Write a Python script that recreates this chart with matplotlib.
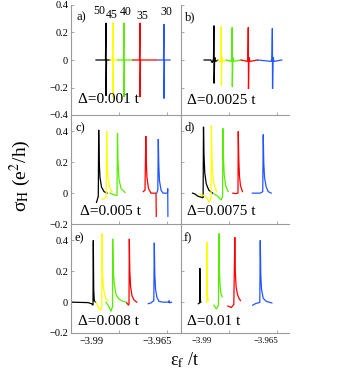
import numpy as np
import matplotlib
matplotlib.use('Agg')
import matplotlib.pyplot as plt
from matplotlib.ticker import FixedLocator, FixedFormatter, NullFormatter

plt.rcParams['font.family'] = ['Liberation Serif', 'DejaVu Serif']
plt.rcParams['mathtext.fontset'] = 'stix'

# ---------------- data ----------------
E0 = -3.998      # reference energy (units of t)
UNIT = 1e-4      # energy offsets below are given in units of 1e-4 t

colors = ['black', '#ffff00', '#55ee00', '#ff0000', '#2255ff']
field_labels = ['50', '45', '40', '35', '30']
field_label_dE = [107.8, 157.9, 211.8, 273.4, 365.8]
field_label_y = [0.356, 0.327, 0.35, 0.32, 0.35]
deltas = ['0.001', '0.0025', '0.005', '0.0075', '0.008', '0.01']
tags = ['a)', 'b)', 'c)', 'd)', 'e)', 'f)']

# panel a  (Delta = 0.001 t)
a_dE = [[96.3, 132.8, 134.8, 134.8, 136.7, 150.2],
        [150.2, 159.8, 161.7, 161.7, 163.6, 181.0],
        [181.0, 202.1, 204.1, 204.1, 206.0, 238.7],
        [238.7, 263.7, 265.7, 265.7, 267.6, 331.1],
        [335.0, 356.1, 358.1, 358.1, 360.0, 381.2]]
a_s = [[0, 0, 0.27, -0.26, 0, 0],
       [0, 0, 0.27, -0.27, 0, 0],
       [0, 0, 0.27, -0.27, 0, 0],
       [0, 0, 0.27, -0.27, 0, 0],
       [0, 0, 0.26, -0.28, 0, 0]]

# panel b  (Delta = 0.0025 t)
b_dE = [[89.7, 115.5, 121.3, 126.3, 127.8, 128.6, 130.9, 134.8, 143.6],
        [143.6, 152.1, 154.8, 156.3, 157.1, 159.0, 162.5, 175.9],
        [175.9, 194.4, 197.1, 198.7, 199.4, 201.4, 204.8, 233.7],
        [233.7, 257.2, 259.9, 261.4, 262.2, 264.1, 267.6, 297.6],
        [297.6, 350.7, 353.4, 355.0, 355.7, 357.7, 361.1, 391.5]]
b_s = [[0, 0, -0.02, 0.01, 0.25, -0.17, 0.02, -0.01, 0],
       [0, -0.01, 0.01, 0.245, -0.19, 0.02, -0.01, 0],
       [0, -0.01, 0.01, 0.237, -0.194, 0.02, -0.01, 0],
       [0, -0.01, 0.01, 0.237, -0.21, 0.02, -0.01, 0],
       [0, -0.01, 0.01, 0.23, -0.21, 0.02, -0.01, 0]]

# panel c  (Delta = 0.005 t)
c_dE = [[98.2, 105.1, 106.6, 108.6, 111.7, 117.4, 127.1, 138.6],
        [118.2, 129.0, 135.5, 137.4, 139.4, 142.5, 148.2, 157.9],
        [150.2, 165.6, 177.1, 179.0, 181.0, 184.8, 192.5, 207.9],
        [278.4, 284.9, 288.0, 289.9, 292.6, 298.4, 308.0, 327.3, 328.4],
        [329.9, 334.2, 336.1, 338.0, 340.7, 346.5, 354.2, 371.5, 372.3, 373.1]]
c_s = [[-0.06, -0.02, 0.41, 0.2, 0.1, 0.04, 0.01, 0],
       [-0.04, -0.035, -0.02, 0.40, 0.2, 0.1, 0.04, 0.01],
       [0, -0.01, -0.015, 0.39, 0.2, 0.09, 0.03, 0.005],
       [0.01, 0.02, 0.37, 0.2, 0.1, 0.03, 0, 0, -0.15],
       [0, 0.02, 0.35, 0.18, 0.08, 0.02, 0, 0, 0.03, -0.15]]

# panel d  (Delta = 0.0075 t)
d_dE = [[45.0, 53.9, 65.5, 85.9, 87.4, 89.3, 92.4, 98.2, 107.8, 123.2],
        [73.2, 88.6, 100.1, 109.7, 116.7, 118.2, 120.1, 123.2, 129.0, 138.6],
        [128.2, 142.5, 155.9, 161.7, 162.9, 164.8, 167.9, 173.3, 183.3],
        [201.4, 211.8, 221.4, 222.5, 224.5, 227.2, 231.0, 238.7],
        [277.2, 308.0, 317.6, 319.6, 321.5, 324.6, 331.1, 338.8, 350.4]]
d_s = [[0, -0.005, -0.02, -0.03, 0.43, 0.25, 0.13, 0.06, 0.02, 0],
       [-0.005, -0.015, -0.03, -0.06, -0.03, 0.44, 0.25, 0.12, 0.05, 0.01],
       [-0.005, -0.02, -0.045, -0.02, 0.42, 0.24, 0.12, 0.05, 0.01],
       [0, -0.003, 0, 0.40, 0.22, 0.11, 0.05, 0.01],
       [0, 0, 0.01, 0.38, 0.2, 0.1, 0.04, 0.01, 0]]

# panel e  (Delta = 0.008 t)
e_dE = [[0.0, 65.5, 78.9, 84.7, 85.9, 87.4, 89.7, 94.3],
        [96.3, 104.0, 113.6, 118.6, 119.4, 121.3, 124.4, 129.0, 134.8, 142.5],
        [134.8, 146.3, 154.0, 159.8, 160.5, 162.5, 166.3, 173.3, 184.8, 200.2, 214.4],
        [214.4, 221.4, 223.3, 224.5, 226.4, 229.5, 234.9, 242.6, 252.9],
        [297.6, 308.0, 318.8, 320.7, 322.6, 325.7, 331.1, 338.8, 354.2, 377.3, 378.1, 378.8, 386.9]]
e_s = [[0, -0.003, -0.01, -0.02, 0.40, 0.08, 0.01, 0],
       [0, -0.03, -0.055, -0.03, 0.445, 0.2, 0.1, 0.05, 0.02, 0.01],
       [0, -0.03, -0.06, -0.03, 0.41, 0.22, 0.12, 0.05, 0.02, 0.005, 0],
       [-0.005, -0.02, -0.01, 0.41, 0.2, 0.1, 0.04, 0.015, 0],
       [-0.01, -0.005, 0.01, 0.385, 0.18, 0.08, 0.03, 0.005, 0, 0, 0.01, -0.005, 0]]

# panel f  (Delta = 0.01 t)
f_dE = [[67.4, 72.4, 73.2, 74.3, 77.0],
        [98.2, 100.5, 101.3, 102.4, 105.9],
        [128.2, 137.4, 145.5, 147.5, 149.4, 152.5, 155.9, 160.5],
        [182.1, 195.2, 205.2, 209.1, 211.0, 214.1, 219.5, 225.2, 231.0],
        [278.4, 291.4, 306.1, 308.0, 309.9, 313.0, 319.6, 331.1, 353.0]]
f_s = [[-0.01, -0.005, 0.22, 0.02, 0],
       [0, 0, 0.39, 0.05, 0.01],
       [-0.02, -0.045, -0.02, 0.445, 0.2, 0.09, 0.05, 0.035],
       [-0.025, -0.035, -0.015, 0.42, 0.2, 0.1, 0.05, 0.025, 0.01],
       [-0.02, -0.008, -0.002, 0.40, 0.18, 0.08, 0.025, 0.005, -0.005]]

panels_dE = [a_dE, b_dE, c_dE, d_dE, e_dE, f_dE]
panels_s = [a_s, b_s, c_s, d_s, e_s, f_s]

xtick_vals = [-3.99, -3.965]
xtick_text = ['\u22123.99', '\u22123.965']
minor_dE = [184.8, 371.5]
row_ylims = [(-0.4, 0.4), (-0.2, 0.5), (-0.2, 0.5)]
row_yticks = [[-0.4, -0.2, 0, 0.2, 0.4], [-0.2, 0, 0.2, 0.4], [-0.2, 0, 0.2, 0.4]]
row_ytext = [['\u22120.4', '\u22120.2', '0', '0.2', '0.4'],
             ['\u22120.2', '0', '0.2', '0.4'],
             ['\u22120.2', '0', '0.2', '0.4']]

# ---------------- layout ----------------
W, H = 345, 381
fig = plt.figure(figsize=(W / 100, H / 100), dpi=100)

def rect(x0, x1, y0, y1):
    return [x0 / W, 1 - y1 / H, (x1 - x0) / W, (y1 - y0) / H]

cols = [(71, 180), (181, 289)]
rows = [(5, 115), (116, 224), (225, 333)]
tag_pos = [(0.046, 0.89), (0.037, 0.89), (0.037, 0.89), (0.028, 0.90), (0.028, 0.88), (0.02, 0.88)]
delta_pos = [(0.064, 0.11), (0.053, 0.10), (0.083, 0.083), (0.053, 0.083), (0.067, 0.074), (0.053, 0.074)]
axis_gray = '#9a9a9a'

for k in range(6):
    r, c = divmod(k, 2)
    ax = fig.add_axes(rect(cols[c][0], cols[c][1], rows[r][0], rows[r][1]))
    ax.patch.set_alpha(0)
    for curve_dE, curve_s, col in zip(panels_dE[k], panels_s[k], colors):
        ax.plot(E0 + np.array(curve_dE) * UNIT, curve_s, color=col, lw=0.9,
                solid_joinstyle='miter')
    ax.set_xlim(E0, E0 + 109 * 3.85 * UNIT)
    ax.set_ylim(*row_ylims[r])
    for side in ['top', 'right']:
        ax.spines[side].set_visible(False)
    for side in ['left', 'bottom']:
        ax.spines[side].set_color(axis_gray)
        ax.spines[side].set_linewidth(0.8)
    ax.yaxis.set_major_locator(FixedLocator(row_yticks[r]))
    if c == 0:
        ax.yaxis.set_major_formatter(FixedFormatter(row_ytext[r]))
    else:
        ax.yaxis.set_major_formatter(NullFormatter())
    ax.xaxis.set_major_locator(FixedLocator(xtick_vals))
    ax.xaxis.set_minor_locator(FixedLocator([E0 + v * UNIT for v in minor_dE]))
    if r == 2:
        ax.xaxis.set_major_formatter(FixedFormatter(xtick_text))
    else:
        ax.xaxis.set_major_formatter(NullFormatter())
    ax.tick_params(axis='y', direction='in', length=2.5, width=0.6, color=axis_gray,
                   labelsize=7.5, pad=2)
    ax.tick_params(axis='x', which='major', length=0, pad=3,
                   labelsize=(7.5 if c == 0 else 6.3))
    ax.tick_params(axis='x', which='minor', direction='in', length=2.5, width=0.6,
                   color=axis_gray)
    ax.text(tag_pos[k][0], tag_pos[k][1], tags[k], transform=ax.transAxes,
            fontsize=9, ha='left', va='center')
    ax.text(delta_pos[k][0], delta_pos[k][1], '\u0394=' + deltas[k] + ' t',
            transform=ax.transAxes, fontsize=11, ha='left', va='baseline')
    if k == 0:
        for lab, dE, yy in zip(field_labels, field_label_dE, field_label_y):
            ax.text(E0 + dE * UNIT, yy, lab, fontsize=8.5, ha='center', va='center')

fig.text(20 / W, 1 - 176 / H, '\u03c3$_{\\rm H}$ (e$^2$/h)', rotation=90,
         ha='center', va='center', fontsize=14)
fig.text(185 / W, 1 - 360 / H, '\u03b5$_{\\rm f}$ /t', ha='center',
         va='center', fontsize=13)

fig.savefig('out.png', dpi=100)
